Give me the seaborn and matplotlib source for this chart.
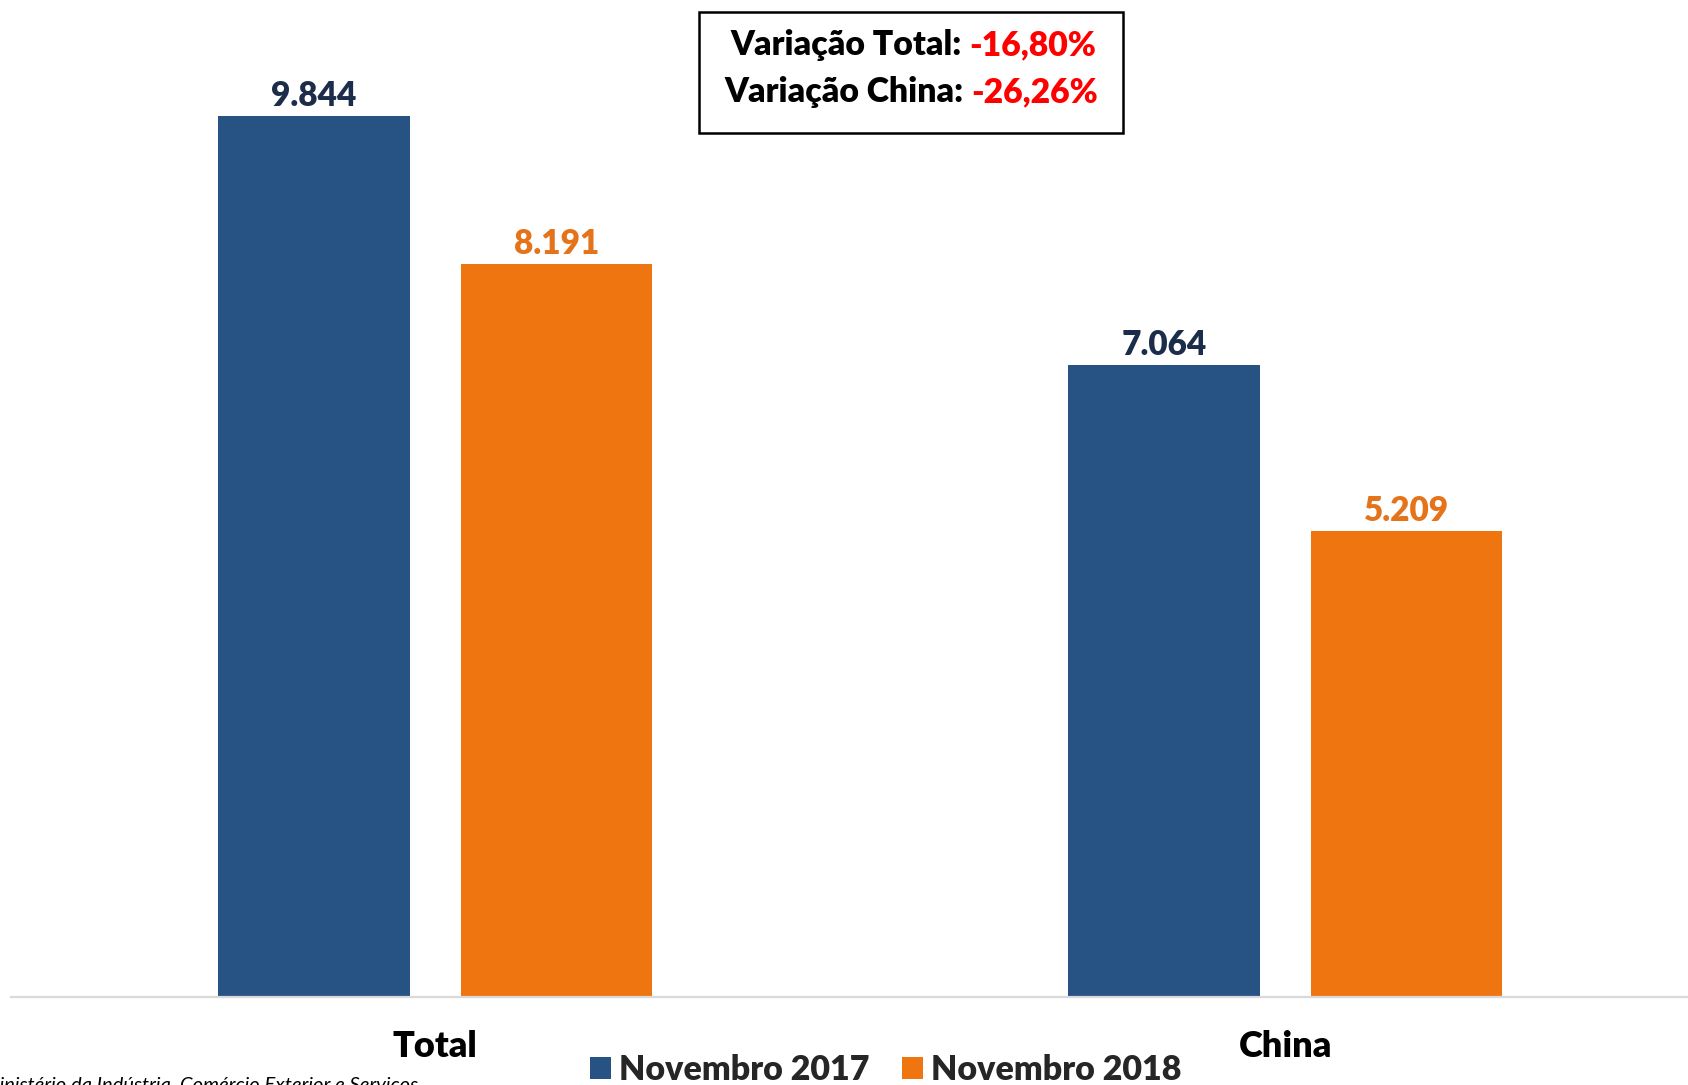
import pandas as pd
import matplotlib.pyplot as plt
import matplotlib.patches as mpatches
import seaborn as sns

# ----------------------------------
# Data
# ----------------------------------
categories = ["Total", "China"]
periods = ["Novembro 2017", "Novembro 2018"]
values_2017 = [9844, 7064]
values_2018 = [8191, 5209]
variation_labels = ["Variação Total: ", "Variação China: "]
variation_values = ["-16,80%", "-26,26%"]
source_text = "Fonte: Ministério da Indústria, Comércio Exterior e Serviços"

bar_colors = ["#265284", "#EF7511"]
label_colors = ["#1B2D4A", "#E4731A"]

df = pd.DataFrame({
    "Categoria": categories * 2,
    "Periodo": [periods[0]] * 2 + [periods[1]] * 2,
    "Valor": values_2017 + values_2018,
})

# ----------------------------------
# Figure
# ----------------------------------
sns.set_theme(style="white")
plt.rcParams["font.family"] = ["Lato", "DejaVu Sans"]
BOLD = "heavy"

W, H = 1688, 1085
fig = plt.figure(figsize=(W / 100, H / 100), dpi=100)
ax = fig.add_axes([11 / W, 1 - 997 / H, 1 - 11 / W, 984 / H])

sns.barplot(
    data=df, x="Categoria", y="Valor", hue="Periodo",
    palette=bar_colors, width=0.57, gap=0.21, saturation=1,
    edgecolor="none", ax=ax,
)

handles, labels = ax.get_legend_handles_labels()
if ax.legend_ is not None:
    ax.legend_.remove()

for cont, col in zip(ax.containers, label_colors):
    ax.bar_label(
        cont,
        labels=[f"{int(v):,}".replace(",", ".") for v in cont.datavalues],
        padding=3, color=col, fontsize=24, fontweight=BOLD,
    )

ax.set_xlim(-0.499, 1.474)
ax.set_ylim(0, 11000)
ax.set_xlabel("")
ax.set_ylabel("")
ax.set_yticks([])
ax.tick_params(axis="x", length=0, pad=24)
for lab in ax.get_xticklabels():
    lab.set_fontsize(26)
    lab.set_fontweight(BOLD)
    lab.set_color("black")

for side in ["top", "left", "right"]:
    ax.spines[side].set_visible(False)
ax.spines["bottom"].set_color("#D9D9D9")
ax.spines["bottom"].set_linewidth(1.6)

# ----------------------------------
# Legend
# ----------------------------------
fig.legend(
    handles, labels, loc="center", bbox_to_anchor=(886 / W, 1 - 1070 / H),
    ncol=2, frameon=False, prop={"size": 24.5, "weight": BOLD},
    handlelength=0.6, handleheight=0.6, handletextpad=0.25,
    columnspacing=0.95,
)

# ----------------------------------
# Variation box
# ----------------------------------
box = mpatches.Rectangle(
    (699 / W, 1 - 133 / H), (1123 - 699) / W, (133 - 12) / H,
    transform=fig.transFigure, fill=False, edgecolor="black", linewidth=1.8,
)
fig.patches.append(box)

line_x = [730, 724]
line_y = [45, 92]
for lbl, val, lx, ly in zip(variation_labels, variation_values, line_x, line_y):
    t = fig.text(lx / W, 1 - ly / H, lbl, fontsize=24.3, fontweight=BOLD,
                 color="black", ha="left", va="center")
    ax.annotate(val, xy=(1, 0.5), xycoords=t, ha="left", va="center",
                fontsize=24.3, fontweight=BOLD, color="#FF0000")

# ----------------------------------
# Source (cut at the edge, as in the original)
# ----------------------------------
fig.text(418 / W, 1 - 1077 / H, source_text, fontsize=14.5, style="italic",
         color="black", ha="right", va="top")

fig.savefig("out.png", dpi=100)
